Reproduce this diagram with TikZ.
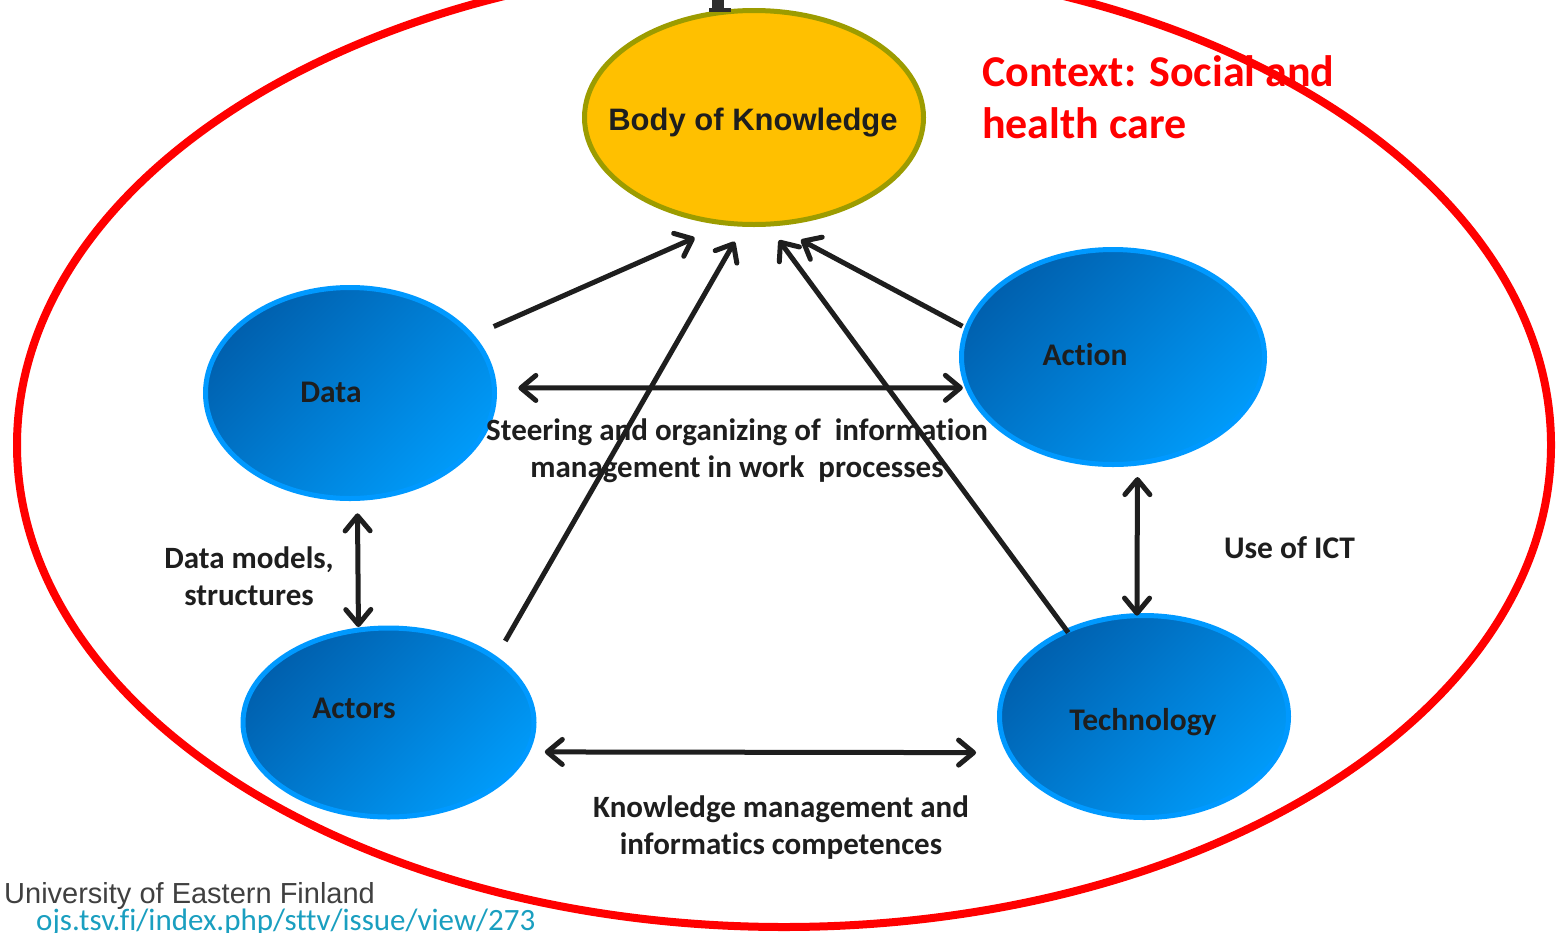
\documentclass[tikz,border=0pt]{standalone}
\usepackage{fontspec}
\setmainfont{Carlito}[Ligatures=NoCommon]
\newfontfamily\arialf{Liberation Sans}
\usetikzlibrary{arrows.meta,shapes.geometric}
\definecolor{bokfill}{HTML}{FFC000}
\definecolor{bokline}{HTML}{9C9C00}
\definecolor{bluedark}{HTML}{0060AE}
\definecolor{bluelight}{HTML}{009AF8}
\definecolor{blueline}{HTML}{0099FF}
\definecolor{ink}{HTML}{1E1E1E}
\definecolor{ctxred}{HTML}{FF0000}
\definecolor{uefgrey}{HTML}{404040}
\definecolor{urlteal}{HTML}{1A9FC0}
\begin{document}
\begin{tikzpicture}[x=1pt,y=-1pt,
  blob/.style={ellipse, draw=blueline, line width=5pt, top color=bluedark,
    bottom color=bluelight, shading angle=45, inner sep=0pt, outer sep=0pt},
  bok/.style={ellipse, draw=bokline, fill=bokfill, line width=5pt, inner sep=0pt, outer sep=0pt},
  lbl/.style={font=\bfseries\fontsize{31}{37}\selectfont, text=ink, align=center, inner sep=0pt},
  blbl/.style={font=\bfseries\fontsize{31.5}{37}\selectfont, text=ink, inner sep=0pt, anchor=base},
  tipb/.tip={Straight Barb[length=15pt,width=25pt,round]},
  arr/.style={draw=ink, line width=5pt, -tipb},
  dbl/.style={draw=ink, line width=5pt, tipb-tipb}
]
\useasboundingbox (0,0) rectangle (1557,932);
\fill[white] (0,0) rectangle (1557,932);

% ellipses
\node[bok, minimum width=339pt, minimum height=214pt] (bok) at (754,117.5) {};
\node[blob, minimum width=289pt, minimum height=211pt] (data) at (350,393) {};
\node[blob, minimum width=303pt, minimum height=215pt] (action) at (1113,357) {};
\node[blob, minimum width=291pt, minimum height=189pt] (actors) at (388.5,722.5) {};
\node[blob, minimum width=289pt, minimum height=202pt] (tech) at (1144,716.5) {};

% title fragment
\fill[black!82] (711.5,0) rectangle (724,9);
\fill[black!82] (709,8) rectangle (731,12);

% labels in ellipses
\node[font=\arialf\bfseries\fontsize{31}{37}\selectfont, text=ink, inner sep=0pt, anchor=base] (bokl) at (753,130) {Body of Knowledge};
\node[blbl] (datal) at (331,402) {Data};
\node[blbl] (actionl) at (1085,365) {Action};
\node[blbl] (actorsl) at (354,718) {Actors};
\node[blbl] (techl) at (1143,730) {Technology};

% connector labels
\node[lbl] (steer) at (737,451) {Steering and organizing of~~information\\management in work~~processes};
\node[lbl] (dm) at (249,576) {Data models,\\structures};
\node[blbl] (ict) at (1289.5,558) {Use of ICT};
\node[lbl] (km) at (781,828) {Knowledge management and\\informatics competences};

% context
\node[font=\bfseries\fontsize{44}{52}\selectfont, text=ctxred, align=left, inner sep=0pt, anchor=west] (ctx) at (982,97) {Context: Social and\\health care};

% footer
\node[font=\arialf\fontsize{29}{34}\selectfont, text=uefgrey, inner sep=0pt, anchor=base west] (uef) at (4,903) {University of Eastern Finland};
\node[font=\fontsize{31}{34}\selectfont, text=urlteal, inner sep=0pt, anchor=base west] (url) at (36,930) {ojs.tsv.fi/index.php/sttv/issue/view/273};

% connectors
\draw[arr, shorten <=24pt, shorten >=36pt] (data.25) -- (bok.256);
\draw[arr, shorten <=20pt, shorten >=20pt] (actors.31) -- (bok.265);
\draw[arr, shorten <=-2pt, shorten >=20pt] (tech.132) -- (bok.277);
\draw[arr, shorten <=5pt, shorten >=34pt] (action.169) -- (bok.279);
\draw[dbl, shorten <=24pt, shorten >=5pt] (data.2) -- (action.192);
\draw[dbl, shorten <=15pt, shorten >=3pt] (data.274) -- (actors.108);
\draw[dbl, shorten <=14pt, shorten >=0pt] (action.283) -- (tech.94);
\draw[dbl, shorten <=18pt, shorten >=33pt] (actors.348) -- (tech.195);

% context boundary
\draw[ctxred, line width=8pt] (784,445) ellipse [x radius=767pt, y radius=482pt];
\end{tikzpicture}
\end{document}
